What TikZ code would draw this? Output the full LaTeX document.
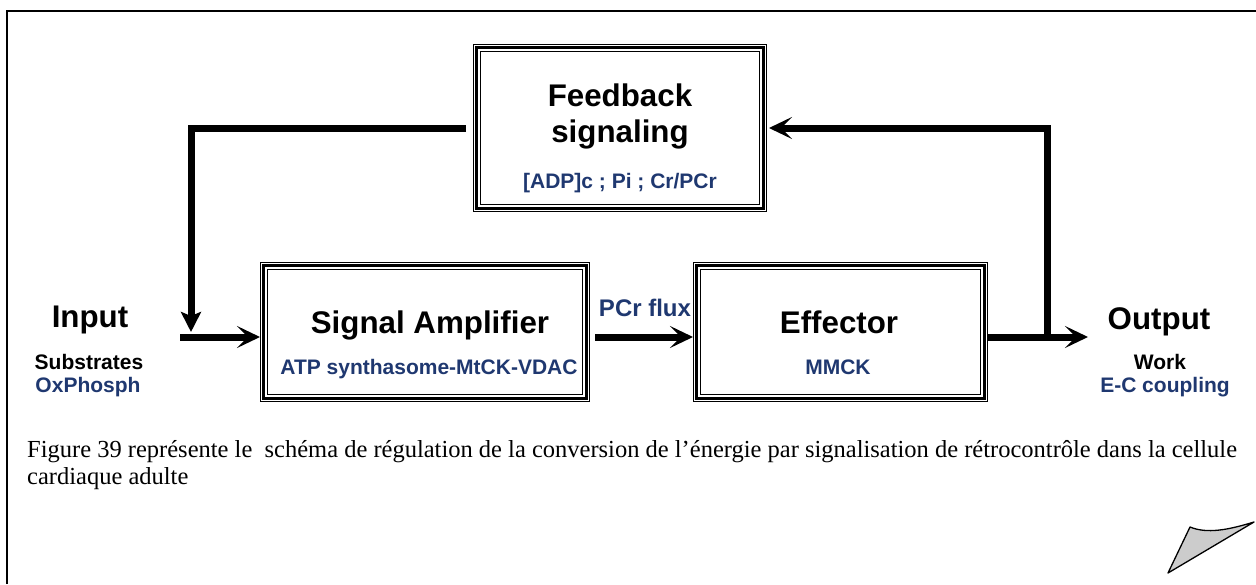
\documentclass[tikz,border=0pt]{standalone}
\usepackage{fontspec}
\setmainfont{Liberation Serif}
\newfontfamily\arialf{Liberation Sans}
\usetikzlibrary{arrows.meta}
\definecolor{navy}{RGB}{31,56,112}
\newcommand\tripleframe[1]{%
  \draw[line width=1.2pt] ([shift={(0.6,0.6)}]#1.north west) rectangle ([shift={(-0.6,-0.6)}]#1.south east);
  \draw[line width=3pt] ([shift={(3.7,3.7)}]#1.north west) rectangle ([shift={(-3.7,-3.7)}]#1.south east);
  \draw[line width=1.2pt] ([shift={(7.4,7.4)}]#1.north west) rectangle ([shift={(-7.4,-7.4)}]#1.south east);
}
\begin{document}
\begin{tikzpicture}[x=1pt,y=-1pt,
  blockbox/.style={inner sep=0pt, outer sep=0pt},
  conn/.style={line width=7pt},
  tipR/.style={-{Stealth[length=23pt,width=22pt,inset=11pt]}},
  tipD/.style={-{Stealth[length=20pt,width=20pt,inset=4pt]}},
  ttl/.style={anchor=base, inner sep=0pt, font=\arialf\bfseries\fontsize{31.3}{34}\selectfont},
  sub/.style={anchor=base, inner sep=0pt, text=navy, font=\arialf\bfseries\fontsize{21}{24}\selectfont},
  subk/.style={anchor=base, inner sep=0pt, font=\arialf\bfseries\fontsize{21}{24}\selectfont},
  capt/.style={anchor=base west, inner sep=0pt, font=\fontsize{24.5}{28}\selectfont},
]
\useasboundingbox (0,0) rectangle (1256,584);
\fill[white] (0,0) rectangle (1256,584);
% page frame
\draw[line width=2pt] (7,584) -- (7,11) -- (1256,11);
% page curl
\filldraw[fill=black!20, line width=1.3pt, line join=round] (1168,573) -- (1190,527) .. controls (1207,534) and (1228,530) .. (1254,522) -- cycle;

% blocks
\node[blockbox, minimum width=294pt, minimum height=168pt] (fb) at (620,128) {};
\node[blockbox, minimum width=330pt, minimum height=140pt] (sa) at (425,332) {};
\node[blockbox, minimum width=295pt, minimum height=140pt] (ef) at (840.5,332) {};
\tripleframe{fb}
\tripleframe{sa}
\tripleframe{ef}

% texts in blocks
\node[ttl] (fbt1) at (620,106) {Feedback};
\node[ttl] (fbt2) at (620,142) {signaling};
\node[sub] (fbs) at (620,188) {[ADP]c ; Pi ; Cr/PCr};
\node[ttl] (sat) at (430,333) {Signal Amplifier};
\node[sub] (sas) at (429,374) {ATP synthasome-MtCK-VDAC};
\node[ttl] (eft) at (839,333) {Effector};
\node[sub] (efs) at (838,374) {MMCK};

% side texts
\node[ttl] (inp) at (90,327) {Input};
\node[subk] (inp1) at (89,369) {Substrates};
\node[sub] (inp2) at (88,392) {OxPhosph};
\node[ttl] (outp) at (1159,329) {Output};
\node[subk] (out1) at (1160,369) {Work};
\node[sub] (out2) at (1165,392) {E-C coupling};
\node[sub, font=\arialf\bfseries\fontsize{24}{28}\selectfont] (pcr) at (645,316) {PCr flux};

% connectors
\coordinate (inL) at (180,337);
\coordinate (jl) at (191,337);
\coordinate (jr) at (1047,337);
\coordinate (outR) at (1088,337);
\draw[conn, tipD] ([xshift=-7pt]fb.west) -| ([yshift=5pt]jl);
\draw[conn, tipR] (inL) -- (inL -| sa.west);
\draw[conn, tipR] ([xshift=5pt]sa.east |- inL) -- (ef.west |- inL);
\draw[conn, tipR] (ef.east |- inL) -- (outR);
\draw[conn, tipR] ([yshift=-3.5pt]jr) |- ([xshift=2pt]fb.east);

% caption
\node[capt] (cap1) at (27,457)
  {Figure 39 représente le~ schéma de régulation de la conversion de l’énergie par signalisation de rétrocontrôle dans la cellule};
\node[capt] (cap2) at (27,484) {cardiaque adulte};
\end{tikzpicture}
\end{document}
